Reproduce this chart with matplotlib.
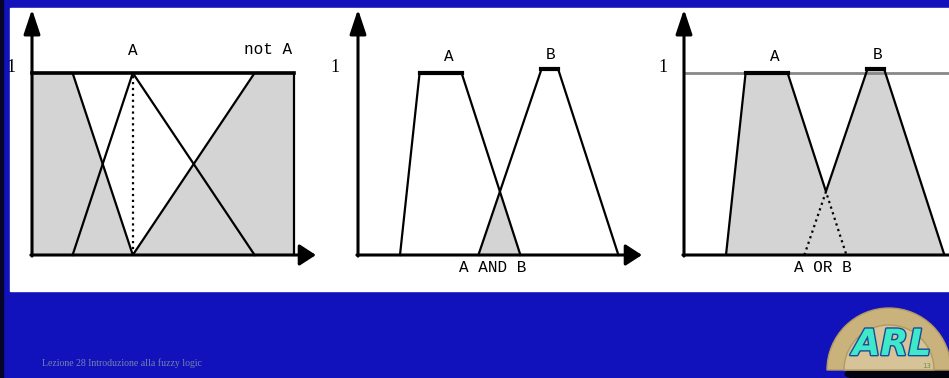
import numpy as np
import matplotlib
matplotlib.use("Agg")
import matplotlib.pyplot as plt
from matplotlib.patches import Rectangle, Wedge, Ellipse
import matplotlib.patheffects as pe

# fuzzy sets (x in arbitrary units, y = membership degree)
a_tri = [1.45, 3.6, 7.95]          # panel 1: set A (triangle)
universe_end = 9.35                # panel 1: right end of universe
a_trap = [1.5, 2.2, 3.7, 5.8]      # panels 2-3: set A (trapezoid)
b_trap = [4.3, 6.55, 7.15, 9.3]    # panels 2-3: set B (trapezoid)
a_height = 1.0
b_height = 1.02

footer = "Lezione 28 Introduzione alla fuzzy logic"
page = "13"

BLUE = "#1212bc"
GRAY = "#d4d4d4"
MONO = "Liberation Mono"
SERIF = "Liberation Serif"

W, H = 949, 378
PX_X, PX_Y, Y0 = 28, 182, 255
TOP, BOTTOM = 8, 291


def trap(xs, pts, h):
    return np.interp(xs, pts, [0, h, h, 0], left=0, right=0)


def panel_axes(fig, origin_px):
    xlo, xhi = -0.9, 10.7
    left = origin_px + xlo * PX_X
    width = (xhi - xlo) * PX_X
    ax = fig.add_axes([left / W, (H - BOTTOM) / H, width / W, (BOTTOM - TOP) / H])
    ax.set_xlim(xlo, xhi)
    ax.set_ylim(-(BOTTOM - Y0) / PX_Y, (Y0 - TOP) / PX_Y)
    ax.axis("off")
    return ax


def draw_axes(ax):
    ax.annotate("", xy=(0, 1.35), xytext=(0, -0.006),
                arrowprops=dict(arrowstyle="-|>,head_length=1.5,head_width=0.5",
                                mutation_scale=10, lw=2.2, color="black",
                                shrinkA=0, shrinkB=0))
    ax.annotate("", xy=(10.14, 0), xytext=(-0.04, 0),
                arrowprops=dict(arrowstyle="-|>,head_length=1.0,head_width=0.65",
                                mutation_scale=10, lw=2.2, color="black",
                                shrinkA=0, shrinkB=0))


def label(ax, x, y, s, **kw):
    ax.text(x, y, s, ha="center", va="center", family=MONO, fontsize=11.5, **kw)


fig = plt.figure(figsize=(W / 100, H / 100), dpi=100)
fig.patch.set_facecolor(BLUE)

# slide background
bg = fig.add_axes([0, 0, 1, 1])
bg.set_xlim(0, W)
bg.set_ylim(H, 0)
bg.axis("off")
bg.add_patch(Rectangle((0, 0), 3, H, color="#05052a"))
bg.add_patch(Rectangle((10, TOP), W - 10, BOTTOM - TOP, color="white"))
bg.text(42, 363, footer, fontsize=7, family=SERIF, color="#7484a8", va="center")

# logo
bg.add_patch(Ellipse((900, 374), 110, 16, color="#03030f"))
bg.add_patch(Wedge((889, 370), 62, 180, 360, facecolor="#c9b27c", edgecolor="#b09a60"))
bg.add_patch(Wedge((889, 370), 45, 180, 360, facecolor="#d6c498", edgecolor="#b09a60"))
bg.text(892, 345, "ARL", fontsize=26, fontweight="bold", style="italic",
        color="#3ee8c8", ha="center", va="center",
        path_effects=[pe.withStroke(linewidth=2, foreground="#1a4a9a")])
bg.text(922, 366, page, fontsize=5, color="#709050", va="center")

# panel 1: A and not A
ax1 = panel_axes(fig, 32)
not_a_x = [0, a_tri[0], a_tri[1], a_tri[2], universe_end]
not_a_y = [1, 1, 0, 1, 1]
ax1.fill_between(not_a_x, not_a_y, 0, color=GRAY, lw=0)
ax1.plot(not_a_x, not_a_y, color="black", lw=1.6)
ax1.plot(a_tri, [0, 1, 0], color="black", lw=1.6)
ax1.plot([0, universe_end], [1, 1], color="black", lw=2.6)
ax1.plot([universe_end, universe_end], [0, 1], color="black", lw=1.6)
ax1.plot([a_tri[1], a_tri[1]], [0, 1], color="black", lw=1.6, ls=":")
draw_axes(ax1)
label(ax1, a_tri[1], 1.125, "A")
label(ax1, 8.43, 1.13, "not A")
ax1.text(-0.75, 1.03, "1", family=SERIF, fontsize=13, ha="center", va="center")

xs = np.linspace(0, 10, 2001)
mu_a = trap(xs, a_trap, a_height)
mu_b = trap(xs, b_trap, b_height)
mu_and = np.minimum(mu_a, mu_b)
mu_or = np.maximum(mu_a, mu_b)

# panel 2: A AND B
ax2 = panel_axes(fig, 358)
ax2.fill_between(xs, mu_and, 0, where=mu_and > 0, color=GRAY, lw=0)
for pts, h in ((a_trap, a_height), (b_trap, b_height)):
    ax2.plot(pts, [0, h, h, 0], color="black", lw=1.6)
    ax2.plot(pts[1:3], [h, h], color="black", lw=3)
draw_axes(ax2)
label(ax2, 3.25, 1.09, "A")
label(ax2, 6.86, 1.10, "B")
label(ax2, 4.82, -0.07, "A AND B")
ax2.text(-0.82, 1.03, "1", family=SERIF, fontsize=13, ha="center", va="center")

# panel 3: A OR B
ax3 = panel_axes(fig, 684)
ax3.plot([0, 10.5], [1, 1], color="#888888", lw=2)
ax3.fill_between(xs, mu_or, 0, where=mu_or > 0, color=GRAY, lw=0)
m = mu_or > 0
ax3.plot(xs[m], mu_or[m], color="black", lw=1.6)
for pts, h in ((a_trap, a_height), (b_trap, b_height)):
    ax3.plot(pts[1:3], [h, h], color="black", lw=3)
inner = (xs >= b_trap[0]) & (xs <= a_trap[3])
ax3.plot(xs[inner], mu_and[inner], color="black", lw=1.6, ls=":")
draw_axes(ax3)
label(ax3, 3.25, 1.09, "A")
label(ax3, 6.93, 1.10, "B")
label(ax3, 4.96, -0.07, "A OR B")
ax3.text(-0.75, 1.03, "1", family=SERIF, fontsize=13, ha="center", va="center")

fig.savefig("out.png", dpi=100, facecolor=fig.get_facecolor())
